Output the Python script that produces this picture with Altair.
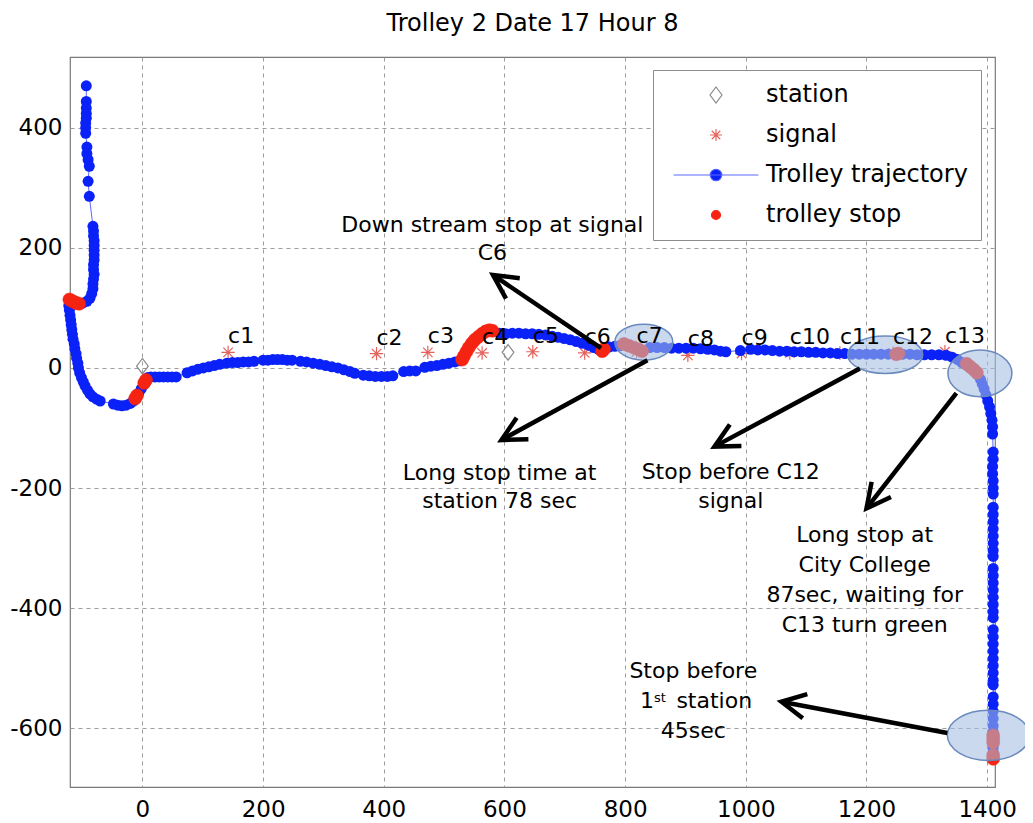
import math
import altair as alt
import pandas as pd

# ------------------------------------------------------------------ data
traj_x = [-93, -93, -93, -93, -93, -94, -94, -94, -92, -92, -90, -88, -90, -88,
          -82, -81, -81, -80, -80, -80, -80, -80, -81, -81, -80, -81, -82, -82, -84, -87,
          -92, -99, -106, -113, -120,
          -122, -121, -120, -119, -118, -117, -116, -115, -113, -112, -110, -109, -107, -106,
          -104, -101, -98, -95, -91, -87, -82, -76, -70,
          -48, -41, -34, -27, -20, -15, -10, -6, -2, 2, 5, 9,
          14, 21, 28, 35, 42, 49, 56,
          74, 83, 92, 101, 110, 119, 128,
          140, 149, 158, 167, 176, 185,
          200, 208, 216, 224, 232, 240, 248,
          262, 272, 283, 294, 304, 314, 324, 334, 344, 352,
          366, 376, 386, 396, 406, 415,
          433, 443, 453,
          468, 478, 488, 498, 508, 518, 526,
          530, 533, 537, 541, 546, 551, 557, 563, 569, 575, 581,
          592, 602, 613, 624, 635, 646, 657, 668, 679, 689, 699, 709, 719, 729, 739, 748, 756, 763,
          774, 783, 791, 798, 806, 814, 822, 829,
          841, 853, 865, 877, 889, 901, 913, 925, 937, 948, 958, 967,
          991,
          1008, 1020, 1032, 1044, 1056, 1068, 1080, 1092, 1104, 1116, 1128, 1140, 1152, 1164,
          1176, 1188, 1200, 1212, 1224, 1236, 1248, 1260, 1272, 1284, 1296, 1308, 1320, 1332, 1342,
          1351, 1358, 1365, 1372, 1378, 1384, 1389, 1392, 1395, 1398, 1401, 1404, 1406, 1408,
          1409, 1409,
          1410, 1410, 1409, 1409, 1410, 1410, 1410,
          1410, 1410, 1410, 1410, 1410, 1410, 1410, 1410,
          1410, 1410, 1410, 1410, 1410, 1410, 1410, 1410,
          1410, 1410, 1410, 1410, 1410, 1410, 1410, 1410, 1410,
          1410, 1410, 1410, 1410, 1410, 1410, 1410, 1410, 1410, 1410, 1410]
traj_y = [470, 444, 433, 424, 416, 408, 400, 391, 368, 357, 347, 336, 311, 286,
          236, 228, 220, 212, 204, 196, 188, 180, 172, 164, 156, 148, 140, 132, 124, 116,
          111, 108, 108, 109, 112,
          104, 96, 88, 80, 72, 64, 56, 48, 40, 32, 24, 16, 8, 0,
          -8, -16, -23, -30, -37, -43, -48, -52, -55,
          -60, -62, -63, -62, -59, -55, -49, -42, -35, -28, -22, -16,
          -15, -15, -15, -15, -15, -15, -15,
          -8, -5, -2, 0, 2, 4, 6,
          8, 9, 9, 10, 10, 11,
          13, 13, 14, 14, 14, 13, 13,
          11, 10, 8, 6, 4, 2, 0, -3, -6, -9,
          -12, -13, -14, -14, -14, -13,
          -6, -5, -5,
          1, 3, 4, 6, 8, 10, 12,
          14, 20, 27, 34, 41, 47, 52, 57, 61, 63, 61,
          58, 57, 58, 58, 57, 57, 56, 55, 53, 51, 49, 47, 44, 41, 38, 34, 31, 28,
          35, 36, 37, 40, 37, 34, 31, 28,
          34, 34, 34, 33, 33, 33, 33, 32, 31, 30, 28, 27,
          29,
          31, 30, 30, 29, 28, 28, 27, 27, 26, 26, 25, 25, 24, 24,
          23, 23, 23, 23, 23, 23, 23, 23, 23, 22, 22, 22, 22, 21, 18,
          14, 9, 5, 0, -5, -11, -19, -27, -35, -45, -55, -65, -76, -87,
          -98, -110,
          -140, -152, -164, -176, -188, -200, -210,
          -232, -244, -256, -268, -280, -292, -304, -314,
          -334, -346, -358, -370, -382, -394, -406, -416,
          -436, -448, -460, -472, -484, -496, -508, -520, -528,
          -548, -560, -572, -584, -596, -606, -614, -622, -632, -640, -648]

stop_x = [-121, -117, -113, -109, -105, -12, -9, 3, 6,
          530, 533, 537, 541, 546, 551, 557, 563, 569, 575, 580,
          762, 765, 798, 806, 814, 822, 828, 1249, 1253,
          1366, 1372, 1378, 1383, 1410, 1410, 1410, 1410, 1410]
stop_y = [114, 112, 110, 108, 107, -51, -46, -25, -20,
          14, 20, 27, 34, 41, 47, 52, 57, 61, 63, 62,
          28, 31, 40, 37, 34, 31, 28, 23, 24,
          7, 2, -3, -8, -612, -618, -624, -645, -651]

signal_names = ["c1", "c2", "c3", "c4", "c5", "c6", "c7", "c8", "c9", "c10", "c11", "c12", "c13"]
signal_x = [142, 388, 473, 563, 647, 733, 819, 904, 993, 1073, 1156, 1244, 1330]
signal_y = [26, 24, 26, 25, 27, 25, 27, 21, 24, 25, 25, 25, 27]

station_x = [0, 606]
station_y = [3, 26]

series_names = ["station", "signal", "Trolley trajectory", "trolley stop"]

x_ticks = [0, 200, 400, 600, 800, 1000, 1200, 1400]
y_ticks = [-600, -400, -200, 0, 200, 400]

title_text = "Trolley 2 Date 17 Hour 8"

note_text = ["Down stream stop at signal", "C6",
             "Long stop time at", "station 78 sec",
             "Stop before C12", "signal",
             "Long stop at", "City College", "87sec, waiting for", "C13 turn green",
             "Stop before", "45sec"]
note_x = [580, 580, 592, 592, 975, 975, 1197, 1197, 1197, 1197, 913, 913]
note_y = [227, 180, -187, -233, -185, -233, -290, -340, -390, -440, -517, -616]

# "1st station" line: base pieces and the superscript
base_text = ["1", "station"]
base_x = [848, 885]
base_y = [-567, -567]
base_align = ["right", "left"]
sup_text = ["st"]
sup_x = [848]
sup_y = [-556]

arrow_tail_x = [760, 837, 1189, 1349, 1334]
arrow_tail_y = [33, 13, -1, -42, -608]
arrow_tip_x = [581, 595, 948, 1200, 1059]
arrow_tip_y = [155, -120, -131, -234, -556]

ellipse_x = [831, 1231, 1388, 1402]
ellipse_y = [43, 22, -9, -612]

# ------------------------------------------------------------------ style
FONT = "DejaVu Sans"
BLUE = "#0a22f8"
LINE_BLUE = "#5a68ff"
RED = "#f52412"
SIG_RED = "#e5635d"
GRAY = "#8a8a8a"
W, H = 925, 730
XMIN, XMAX = -120, 1413
YMIN, YMAX = -698, 518

ell_rx_px = [29, 37.5, 32, 41]
ell_aspect = [0.62, 0.5, 0.73, 0.61]

DIAMOND = "M 0 -1 L 0.75 0 L 0 1 L -0.75 0 Z"
STAR = ("M -0.75 0 L 0.75 0 M 0 -0.75 L 0 0.75 "
        "M -0.53 -0.53 L 0.53 0.53 M -0.53 0.53 L 0.53 -0.53")
TRAJ = ("M -5.3 0 L 5.3 0 M 0.72 0 A 0.72 0.72 0 1 1 -0.72 0 "
        "A 0.72 0.72 0 1 1 0.72 0 Z")
DOT = "M 0.56 0 A 0.56 0.56 0 1 1 -0.56 0 A 0.56 0.56 0 1 1 0.56 0 Z"
ARROWHEAD = "M -0.454 0.891 L 0 0 L 0.454 0.891"

SHAPES = [DIAMOND, STAR, TRAJ, DOT]
FILLS = ["transparent", "transparent", BLUE, RED]
STROKES = [GRAY, SIG_RED, LINE_BLUE, RED]

# ------------------------------------------------------------------ frames
traj_df = pd.DataFrame({"x": traj_x, "y": traj_y, "i": list(range(len(traj_x)))})
stop_df = pd.DataFrame({"x": stop_x, "y": stop_y, "series": "trolley stop"})
sig_df = pd.DataFrame({"x": signal_x, "y": signal_y, "name": signal_names, "series": "signal"})
sta_df = pd.DataFrame({"x": station_x, "y": station_y, "series": "station"})
note_df = pd.DataFrame({"x": note_x, "y": note_y, "t": note_text})
base_df = pd.DataFrame({"x": base_x, "y": base_y, "t": base_text, "a": base_align})
sup_df = pd.DataFrame({"x": sup_x, "y": sup_y, "t": sup_text})

kx = W / (XMAX - XMIN)
ky = H / (YMAX - YMIN)
angles = []
for tx, ty, hx, hy in zip(arrow_tail_x, arrow_tail_y, arrow_tip_x, arrow_tip_y):
    dxs = (hx - tx) * kx
    dys = -(hy - ty) * ky
    angles.append(math.degrees(math.atan2(dxs, -dys)) % 360)
arrow_df = pd.DataFrame({"x": arrow_tail_x, "y": arrow_tail_y,
                         "x2": arrow_tip_x, "y2": arrow_tip_y, "angle": angles})

xscale = alt.Scale(domain=[XMIN, XMAX], nice=False, zero=False)
yscale = alt.Scale(domain=[YMIN, YMAX], nice=False, zero=False)
xaxis = alt.Axis(values=x_ticks, grid=True, gridDash=[4, 4], gridColor="#9a9a9a",
                 gridWidth=1, domain=False, ticks=False, tickSize=0,
                 labelFont=FONT, labelFontSize=23, labelColor="black",
                 labelPadding=11, labelFlush=False, labelOverlap=False,
                 labelExpr="'' + datum.value", title=None)
yaxis = alt.Axis(values=y_ticks, grid=True, gridDash=[4, 4], gridColor="#9a9a9a",
                 gridWidth=1, domain=False, ticks=False, tickSize=0,
                 labelFont=FONT, labelFontSize=23, labelColor="black",
                 labelPadding=8, labelFlush=False, labelOverlap=False,
                 labelExpr="'' + datum.value", title=None)


def X(f="x"):
    return alt.X(f"{f}:Q", scale=xscale, axis=xaxis)


def Y(f="y"):
    return alt.Y(f"{f}:Q", scale=yscale, axis=yaxis)


LEG = alt.Legend(title=None, orient="none", legendX=583, legendY=13, padding=13,
                 fillColor="white", strokeColor="#8c8c8c",
                 labelFont=FONT, labelFontSize=24, labelColor="black", labelLimit=0,
                 symbolSize=256, symbolStrokeWidth=1.2, symbolOffset=38,
                 labelOffset=38, rowPadding=16)


def series_enc():
    return dict(
        shape=alt.Shape("series:N", scale=alt.Scale(domain=series_names, range=SHAPES), legend=LEG),
        fill=alt.Fill("series:N", scale=alt.Scale(domain=series_names, range=FILLS), legend=LEG),
        stroke=alt.Stroke("series:N", scale=alt.Scale(domain=series_names, range=STROKES), legend=LEG),
    )


signals = alt.Chart(sig_df).mark_point(size=317, strokeWidth=1.2, opacity=1).encode(
    x=X(), y=Y(), **series_enc())
stations = alt.Chart(sta_df).mark_point(size=243, strokeWidth=1.2, opacity=1).encode(
    x=X(), y=Y(), **series_enc())
traj_line = alt.Chart(traj_df).mark_line(color=LINE_BLUE, strokeWidth=1).encode(
    x=X(), y=Y(), order="i:Q")
traj_dots = alt.Chart(traj_df).mark_circle(size=121, color=BLUE, opacity=1).encode(
    x=X(), y=Y())
stops = alt.Chart(stop_df).mark_point(size=538, strokeWidth=0.5, opacity=1).encode(
    x=X(), y=Y(), **series_enc())

ellipses = []
for ex, ey, rx, asp in zip(ellipse_x, ellipse_y, ell_rx_px, ell_aspect):
    path = (f"M -1 0 A 1 {asp} 0 1 1 1 0 A 1 {asp} 0 1 1 -1 0 Z")
    edf = pd.DataFrame({"x": [ex], "y": [ey]})
    ellipses.append(
        alt.Chart(edf).mark_point(shape=path, size=(2 * rx) ** 2, filled=True,
                                  fill="#a4bde2", fillOpacity=0.58, stroke="#6a8abd",
                                  strokeWidth=1.5, strokeOpacity=1, opacity=1)
        .encode(x=X(), y=Y()))

shafts = alt.Chart(arrow_df).mark_rule(color="black", strokeWidth=4.5).encode(
    x=X(), y=Y(), x2="x2:Q", y2="y2:Q")
heads = alt.Chart(arrow_df).mark_point(shape=ARROWHEAD, size=2916, filled=False,
                                       fill="transparent", stroke="black", strokeWidth=4.5,
                                       strokeJoin="miter", opacity=1).encode(
    x=X("x2"), y=Y("y2"), angle=alt.Angle("angle:Q", scale=None))

sig_labels = alt.Chart(sig_df).mark_text(font=FONT, fontSize=22, align="left",
                                         baseline="alphabetic", dy=-9, color="black").encode(
    x=X(), y=Y(), text="name:N")
notes = alt.Chart(note_df).mark_text(font=FONT, fontSize=22, align="center",
                                     baseline="alphabetic", color="black").encode(
    x=X(), y=Y(), text="t:N")
base_r = alt.Chart(base_df[base_df.a == "right"]).mark_text(
    font=FONT, fontSize=22, align="right", baseline="alphabetic", color="black").encode(
    x=X(), y=Y(), text="t:N")
base_l = alt.Chart(base_df[base_df.a == "left"]).mark_text(
    font=FONT, fontSize=22, align="left", baseline="alphabetic", color="black").encode(
    x=X(), y=Y(), text="t:N")
sup = alt.Chart(sup_df).mark_text(font=FONT, fontSize=13, align="left",
                                  baseline="alphabetic", color="black").encode(
    x=X(), y=Y(), text="t:N")

chart = alt.layer(
    signals, stations, traj_line, traj_dots, stops, *ellipses,
    shafts, heads, sig_labels, notes, base_r, base_l, sup
).properties(
    width=W, height=H,
    title=alt.TitleParams(title_text, font=FONT, fontSize=24, fontWeight="normal",
                          color="black", anchor="middle", baseline="alphabetic",
                          frame="group", offset=25, dy=23),
    padding={"left": 62, "top": 49, "right": 30, "bottom": 34},
    autosize=alt.AutoSizeParams(type="none"),
).configure_view(stroke="#7a7a7a", strokeWidth=1.2)

chart.save("out.html", embed_options={"renderer": "svg", "actions": False})
